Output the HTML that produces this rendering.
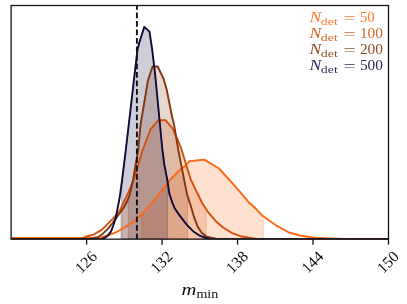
<!DOCTYPE html>
<html><head><meta charset="utf-8"><title>m_min posterior</title>
<style>
html,body{margin:0;padding:0;background:#fff;}
body{width:407px;height:304px;overflow:hidden;font-family:"Liberation Serif",serif;}
svg{display:block;will-change:transform;}
text{font-family:"Liberation Serif",serif;}
</style></head><body>
<svg width="407" height="304" viewBox="0 0 407 304">
<rect x="0" y="0" width="407" height="304" fill="#ffffff"/>
<defs>
<clipPath id="ax"><rect x="11.1" y="5.5" width="377.4" height="233.65"/></clipPath>
<clipPath id="clip_c500"><rect x="121.7" y="5.5" width="45.8" height="233.65"/></clipPath>
<clipPath id="clip_c200"><rect x="128.3" y="5.5" width="59.29999999999998" height="233.65"/></clipPath>
<clipPath id="clip_c100"><rect x="120.8" y="5.5" width="85.39999999999999" height="233.65"/></clipPath>
<clipPath id="clip_c50"><rect x="141.6" y="5.5" width="121.79999999999998" height="233.65"/></clipPath>
</defs>
<g clip-path="url(#ax)">
<path d="M141.6,239.2 L141.6,214.4 L141.7,214.3 L147.6,207.6 L153.6,200.9 L160.0,192.9 L165.4,185.9 L169.6,180.3 L177.8,171.8 L184.7,166.3 L189.6,161.2 L204.3,159.6 L219.1,168.5 L233.9,184.8 L241.9,194.2 L248.9,202.5 L256.0,208.8 L262.2,215.5 L263.4,216.4 L263.4,239.2 Z" fill="#ff6712" fill-opacity="0.2" stroke="#ff6712" stroke-opacity="0.2" stroke-width="1.2" stroke-linejoin="miter"/>
<path d="M120.8,239.2 L120.8,208.6 L124.8,199.8 L128.7,191.9 L133.6,180.0 L142.4,150.8 L150.5,129.3 L158.1,120.3 L165.7,120.3 L172.7,128.6 L178.9,142.4 L181.8,150.5 L186.2,164.9 L190.8,179.7 L195.6,189.7 L197.8,194.0 L202.1,202.9 L206.2,209.2 L206.2,239.2 Z" fill="#d4500c" fill-opacity="0.2" stroke="#d4500c" stroke-opacity="0.2" stroke-width="1.2" stroke-linejoin="miter"/>
<path d="M128.3,239.2 L128.3,198.5 L129.7,194.9 L133.0,180.0 L138.2,150.0 L140.6,124.4 L142.0,116.0 L146.4,89.7 L147.9,80.8 L152.5,66.5 L157.7,66.5 L163.6,78.8 L166.7,89.7 L172.3,117.7 L174.0,124.4 L178.3,150.0 L181.2,164.9 L184.2,180.0 L187.2,194.9 L187.6,196.1 L187.6,239.2 Z" fill="#83360f" fill-opacity="0.2" stroke="#83360f" stroke-opacity="0.2" stroke-width="1.2" stroke-linejoin="miter"/>
<path d="M121.7,239.2 L121.7,182.9 L122.1,180.0 L125.8,150.0 L134.5,75.0 L137.5,49.7 L139.5,42.0 L144.3,26.9 L149.5,31.6 L152.2,49.7 L155.1,74.0 L162.4,150.0 L164.4,164.9 L167.3,180.0 L167.5,181.3 L167.5,239.2 Z" fill="#0d0b3a" fill-opacity="0.2" stroke="#0d0b3a" stroke-opacity="0.2" stroke-width="1.2" stroke-linejoin="miter"/>
<path d="M11.0,238.0 L93.0,238.0 L100.9,237.3 L105.8,236.0 L112.8,233.7 L118.0,231.3 L125.4,226.9 L133.6,221.7 L141.7,214.3 L147.6,207.6 L153.6,200.9 L160.0,192.9 L165.4,185.9 L169.6,180.3 L177.8,171.8 L184.7,166.3 L189.6,161.2 L204.3,159.6 L219.1,168.5 L233.9,184.8 L241.9,194.2 L248.9,202.5 L256.0,208.8 L262.2,215.5 L275.6,225.1 L288.9,232.5 L300.0,235.5 L314.7,237.8 L330.0,238.4 L344.0,238.9 L356.0,239.2 L389.0,239.2" fill="none" stroke="#ff6712" stroke-width="1.9" stroke-linejoin="round" stroke-linecap="butt"/>
<path d="M11.0,239.2 L79.5,239.2 L86.9,236.5 L94.2,234.3 L101.6,229.9 L104.8,226.8 L109.7,221.8 L112.8,218.9 L119.7,211.0 L124.8,199.8 L128.7,191.9 L133.6,180.0 L142.4,150.8 L150.5,129.3 L158.1,120.3 L165.7,120.3 L172.7,128.6 L178.9,142.4 L181.8,150.5 L186.2,164.9 L190.8,179.7 L195.6,189.7 L197.8,194.0 L202.1,202.9 L207.9,211.8 L215.3,220.7 L222.7,227.3 L231.6,232.8 L240.4,236.2 L249.3,237.7 L258.0,239.2 L389.0,239.2" fill="none" stroke="#d4500c" stroke-width="1.9" stroke-linejoin="round" stroke-linecap="butt"/>
<path d="M11.0,239.2 L89.5,239.2 L94.0,237.9 L97.9,237.2 L102.9,233.7 L107.8,228.8 L112.8,222.9 L117.7,215.9 L123.6,208.0 L127.2,201.3 L129.7,194.9 L133.0,180.0 L138.2,150.0 L140.6,124.4 L142.0,116.0 L146.4,89.7 L147.9,80.8 L152.5,66.5 L157.7,66.5 L163.6,78.8 L166.7,89.7 L172.3,117.7 L174.0,124.4 L178.3,150.0 L181.2,164.9 L184.2,180.0 L187.2,194.9 L190.7,205.7 L194.3,217.9 L197.7,226.8 L201.7,232.8 L206.7,236.7 L211.6,237.7 L218.0,239.2 L389.0,239.2" fill="none" stroke="#83360f" stroke-width="1.9" stroke-linejoin="round" stroke-linecap="butt"/>
<path d="M11.0,239.2 L102.0,239.2 L104.8,237.7 L107.8,235.7 L110.8,231.8 L113.2,225.8 L115.7,217.9 L117.5,209.0 L119.8,196.8 L122.1,180.0 L125.8,150.0 L134.5,75.0 L137.5,49.7 L139.5,42.0 L144.3,26.9 L149.5,31.6 L152.2,49.7 L155.1,74.0 L162.4,150.0 L164.4,164.9 L167.3,180.0 L169.4,193.9 L172.4,202.8 L174.8,208.5 L179.9,215.9 L186.9,224.8 L193.8,231.8 L199.7,235.7 L204.7,237.5 L210.0,239.2 L389.0,239.2" fill="none" stroke="#0d0b3a" stroke-width="1.9" stroke-linejoin="round" stroke-linecap="butt"/>
<line x1="136.90" y1="3.9" x2="136.90" y2="239.15" stroke="#111" stroke-width="1.9" stroke-dasharray="5.95,2.55"/>
</g>
<rect x="11.1" y="5.5" width="377.4" height="233.65" fill="none" stroke="#151515" stroke-width="1.3"/>
<line x1="86.58" y1="239.15" x2="86.58" y2="244.65" stroke="#111" stroke-width="1.3"/>
<line x1="162.06" y1="239.15" x2="162.06" y2="244.65" stroke="#111" stroke-width="1.3"/>
<line x1="237.54" y1="239.15" x2="237.54" y2="244.65" stroke="#111" stroke-width="1.3"/>
<line x1="313.02" y1="239.15" x2="313.02" y2="244.65" stroke="#111" stroke-width="1.3"/>
<line x1="388.50" y1="239.15" x2="388.50" y2="244.65" stroke="#111" stroke-width="1.3"/>
<text x="0" y="0" font-size="15.8" fill="#111" text-anchor="middle" transform="translate(86.18,262.4) rotate(-45) translate(0,4.9)">126</text>
<text x="0" y="0" font-size="15.8" fill="#111" text-anchor="middle" transform="translate(161.66,262.4) rotate(-45) translate(0,4.9)">132</text>
<text x="0" y="0" font-size="15.8" fill="#111" text-anchor="middle" transform="translate(237.14,262.4) rotate(-45) translate(0,4.9)">138</text>
<text x="0" y="0" font-size="15.8" fill="#111" text-anchor="middle" transform="translate(312.62,262.4) rotate(-45) translate(0,4.9)">144</text>
<text x="0" y="0" font-size="15.8" fill="#111" text-anchor="middle" transform="translate(388.10,262.4) rotate(-45) translate(0,4.9)">150</text>
<text x="181.6" y="294.5" font-size="16.4" fill="#111" font-style="italic" textLength="14.9" lengthAdjust="spacingAndGlyphs">m</text>
<text x="196.4" y="297.6" font-size="12.6" fill="#111" textLength="21.8" lengthAdjust="spacingAndGlyphs">min</text>
<text x="309.6" y="22.3" font-size="14.6" fill="#ff6712" font-style="italic" textLength="11.8" lengthAdjust="spacingAndGlyphs" fill-opacity="0.9">N</text>
<text x="320.8" y="24.7" font-size="10.2" fill="#ff6712" textLength="17.0" lengthAdjust="spacingAndGlyphs" fill-opacity="0.85">det</text>
<text x="343.4" y="23.400000000000002" font-size="15" fill="#ff6712" textLength="12.2" lengthAdjust="spacingAndGlyphs" fill-opacity="0.9">=</text>
<text x="359.9" y="22.3" font-size="14.6" fill="#ff6712" textLength="14.8" lengthAdjust="spacingAndGlyphs" fill-opacity="0.9">50</text>
<text x="309.6" y="38.3" font-size="14.6" fill="#d4500c" font-style="italic" textLength="11.8" lengthAdjust="spacingAndGlyphs" fill-opacity="0.9">N</text>
<text x="320.8" y="40.699999999999996" font-size="10.2" fill="#d4500c" textLength="17.0" lengthAdjust="spacingAndGlyphs" fill-opacity="0.85">det</text>
<text x="343.4" y="39.4" font-size="15" fill="#d4500c" textLength="12.2" lengthAdjust="spacingAndGlyphs" fill-opacity="0.9">=</text>
<text x="359.9" y="38.3" font-size="14.6" fill="#d4500c" textLength="23.0" lengthAdjust="spacingAndGlyphs" fill-opacity="0.9">100</text>
<text x="309.6" y="54.3" font-size="14.6" fill="#83360f" font-style="italic" textLength="11.8" lengthAdjust="spacingAndGlyphs" fill-opacity="0.9">N</text>
<text x="320.8" y="56.699999999999996" font-size="10.2" fill="#83360f" textLength="17.0" lengthAdjust="spacingAndGlyphs" fill-opacity="0.85">det</text>
<text x="343.4" y="55.4" font-size="15" fill="#83360f" textLength="12.2" lengthAdjust="spacingAndGlyphs" fill-opacity="0.9">=</text>
<text x="359.9" y="54.3" font-size="14.6" fill="#83360f" textLength="23.0" lengthAdjust="spacingAndGlyphs" fill-opacity="0.9">200</text>
<text x="309.6" y="70.3" font-size="14.6" fill="#0d0b3a" font-style="italic" textLength="11.8" lengthAdjust="spacingAndGlyphs" fill-opacity="0.9">N</text>
<text x="320.8" y="72.7" font-size="10.2" fill="#0d0b3a" textLength="17.0" lengthAdjust="spacingAndGlyphs" fill-opacity="0.85">det</text>
<text x="343.4" y="71.39999999999999" font-size="15" fill="#0d0b3a" textLength="12.2" lengthAdjust="spacingAndGlyphs" fill-opacity="0.9">=</text>
<text x="359.9" y="70.3" font-size="14.6" fill="#0d0b3a" textLength="23.0" lengthAdjust="spacingAndGlyphs" fill-opacity="0.9">500</text>
</svg>
</body></html>
